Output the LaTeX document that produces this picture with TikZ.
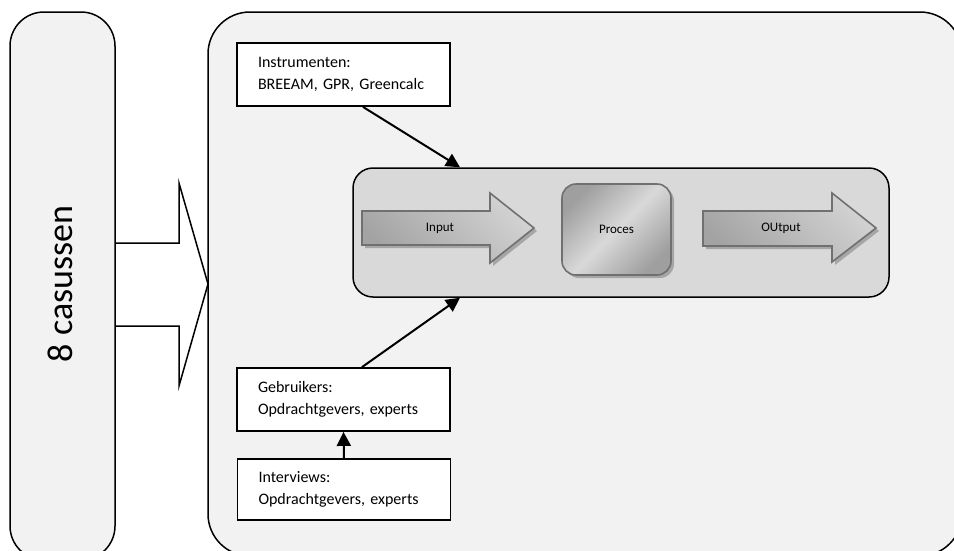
\documentclass[tikz,border=0pt]{standalone}
\usepackage{fontspec}
\setmainfont{Carlito}
\usetikzlibrary{arrows.meta,shadows}

\definecolor{panel}{HTML}{F2F2F2}
\definecolor{inner}{HTML}{D9D9D9}
\definecolor{edgegray}{HTML}{707070}
\definecolor{shadowgray}{HTML}{A6A6A6}

\begin{document}
\begin{tikzpicture}
[x=1pt,y=-1pt,
infobox/.style={draw,fill=white,line width=1.8pt,minimum width=213pt,minimum height=63pt,
  text width=171pt,align=left,inner sep=0pt,font=\fontsize{16}{22.5}\selectfont},
flow/.style={line width=2pt,-{Triangle[length=14pt,width=14pt]}},
fatarrow/.style={draw=edgegray,line width=1.6pt,top color=gray!35,bottom color=gray!72,shading angle=-45,
  drop shadow={shadow xshift=3pt,shadow yshift=-3pt,fill=shadowgray,opacity=1}},
lbl/.style={font=\fontsize{13}{15}\selectfont}]
\useasboundingbox (0,0) rectangle (954,550);
% big white arrow
\draw[fill=white,line width=1.5pt] (115,243) -- (179,243) -- (179,183) -- (208,284)
  -- (179,386) -- (179,326) -- (115,326);
% outer panels
\draw[fill=panel,line width=1.5pt,rounded corners=34pt] (10,12) rectangle (115,560);
\draw[fill=panel,line width=1.5pt,rounded corners=42pt] (208,12) rectangle (962,556);
\node[rotate=90,font=\fontsize{36}{40}\selectfont] (cases) at (60,284) {8 casussen};
% process area
\node[draw,fill=inner,line width=1.5pt,rounded corners=20pt,minimum width=536pt,minimum height=129pt]
  (procarea) at (621,232.5) {};
\path[fatarrow] (362,211) -- (490,211) -- (490,193) -- (534,228) -- (490,263) -- (490,245) -- (362,245) -- cycle;
\node[lbl] (input) at (440,228) {Input};
\node[draw=edgegray,line width=1.6pt,rounded corners=14pt,minimum width=109pt,minimum height=91pt,
  top color=gray!75,bottom color=gray!75,middle color=gray!30,shading angle=45,
  drop shadow={shadow xshift=3pt,shadow yshift=-3pt,fill=shadowgray,opacity=1},lbl]
  (proces) at (616.5,229.5) {Proces};
\path[fatarrow] (703,211) -- (832,211) -- (832,193) -- (876,228) -- (832,262) -- (832,246) -- (703,246) -- cycle;
\node[lbl] (output) at (781,228) {OUtput};
% sources
\node[infobox] (instr) at (343.5,74.5) {Instrumenten:\\BREEAM, GPR, Greencalc};
\node[infobox] (gebr) at (343.5,399.5) {Gebruikers:\\Opdrachtgevers, experts};
\node[infobox,minimum height=61pt] (interv) at (344,489.5) {Interviews:\\Opdrachtgevers, experts};
\draw[flow] ([xshift=19.5pt]instr.south) -- ([xshift=-161pt]procarea.north);
\draw[flow] ([xshift=18.5pt]gebr.north) -- ([xshift=-161pt]procarea.south);
\draw[flow] (interv.north) -- (gebr.south);
\end{tikzpicture}
\end{document}
